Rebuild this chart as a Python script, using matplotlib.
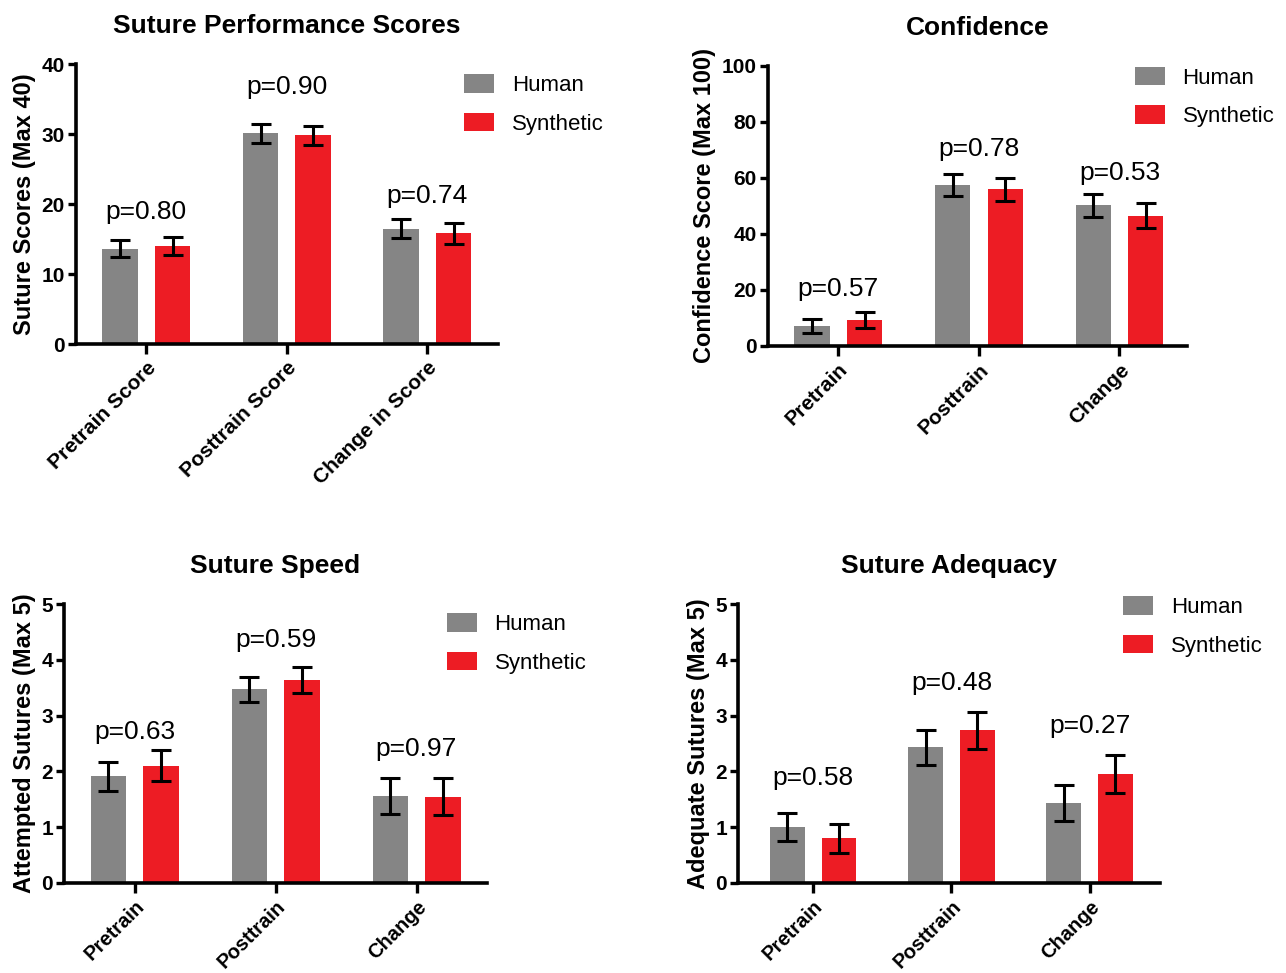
import numpy as np
import matplotlib
matplotlib.use("Agg")
import matplotlib.pyplot as plt

plt.rcParams['font.family'] = ['Liberation Sans', 'DejaVu Sans']

# Data
series = ["Human", "Synthetic"]
colors = ["#858585", "#ED1C24"]

perf_groups = ["Pretrain Score", "Posttrain Score", "Change in Score"]
perf_human = [13.6, 30.1, 16.5]
perf_human_err = [1.2, 1.35, 1.4]
perf_synth = [14.0, 29.8, 15.8]
perf_synth_err = [1.25, 1.4, 1.45]
perf_p = ["p=0.80", "p=0.90", "p=0.74"]
perf_p_y = [18.9, 36.7, 21.1]

conf_groups = ["Pretrain", "Posttrain", "Change"]
conf_human = [7.2, 57.5, 50.3]
conf_human_err = [2.5, 3.9, 4.1]
conf_synth = [9.3, 56.0, 46.6]
conf_synth_err = [2.7, 4.1, 4.3]
conf_p = ["p=0.57", "p=0.78", "p=0.53"]
conf_p_y = [20.4, 70.4, 61.8]

speed_groups = ["Pretrain", "Posttrain", "Change"]
speed_human = [1.91, 3.47, 1.56]
speed_human_err = [0.26, 0.22, 0.32]
speed_synth = [2.10, 3.64, 1.55]
speed_synth_err = [0.28, 0.24, 0.34]
speed_p = ["p=0.63", "p=0.59", "p=0.97"]
speed_p_y = [2.71, 4.36, 2.40]

adeq_groups = ["Pretrain", "Posttrain", "Change"]
adeq_human = [1.00, 2.43, 1.43]
adeq_human_err = [0.25, 0.31, 0.32]
adeq_synth = [0.80, 2.74, 1.95]
adeq_synth_err = [0.26, 0.33, 0.34]
adeq_p = ["p=0.58", "p=0.48", "p=0.27"]
adeq_p_y = [1.88, 3.58, 2.81]

fig = plt.figure(figsize=(12.86, 9.73), dpi=100)


def panel(rect, title, ylabel, groups, hv, he, sv, se, ptxt, py, ymax, ystep,
          xlim, leg_anchor, xfont=15):
    ax = fig.add_axes(rect)
    x = np.arange(len(groups))
    w = 0.25
    off = 0.187
    for xs, vals, errs, c, lab in [(x - off, hv, he, colors[0], series[0]),
                                   (x + off, sv, se, colors[1], series[1])]:
        ax.bar(xs, vals, w, color=c, label=lab, zorder=2)
        ax.errorbar(xs, vals, yerr=errs, fmt='none', ecolor='black',
                    elinewidth=2.2, capsize=7, capthick=2.2, zorder=3)
    for xi, t, yy in zip(x, ptxt, py):
        ax.text(xi, yy, t, ha='center', va='center', fontsize=19)
    ax.set_xlim(*xlim)
    ax.set_ylim(0, ymax)
    ax.set_yticks(np.arange(0, ymax + ystep / 2, ystep))
    ax.set_xticks(x)
    ax.set_xticklabels(groups, rotation=45, ha='right', rotation_mode='anchor',
                       fontsize=xfont, fontweight='bold')
    for lbl in ax.get_yticklabels():
        lbl.set_fontweight('bold')
    ax.tick_params(axis='y', labelsize=15, width=2.4, length=6, pad=2)
    ax.tick_params(axis='x', width=2.4, length=7, pad=3)
    for s in ['top', 'right']:
        ax.spines[s].set_visible(False)
    for s in ['left', 'bottom']:
        ax.spines[s].set_linewidth(2.6)
    ax.set_ylabel(ylabel, fontsize=17, fontweight='bold', labelpad=4)
    ax.set_title(title, fontsize=19, fontweight='bold', pad=22)
    ax.legend(loc='upper left', bbox_to_anchor=leg_anchor, frameon=False,
              fontsize=16, handlelength=1.35, handleheight=0.9,
              labelspacing=0.75, handletextpad=0.8, borderaxespad=0)
    return ax


panel([0.0591, 0.6464, 0.3278, 0.2878], "Suture Performance Scores",
      "Suture Scores (Max 40)", perf_groups, perf_human, perf_human_err,
      perf_synth, perf_synth_err, perf_p, perf_p_y, 40, 10,
      (-0.5, 2.5), (0.90, 0.995))

panel([0.5972, 0.6444, 0.3258, 0.2878], "Confidence",
      "Confidence Score (Max 100)", conf_groups, conf_human, conf_human_err,
      conf_synth, conf_synth_err, conf_p, conf_p_y, 100, 20,
      (-0.5, 2.48), (0.854, 1.029))

panel([0.0498, 0.0925, 0.3289, 0.2867], "Suture Speed",
      "Attempted Sutures (Max 5)", speed_groups, speed_human, speed_human_err,
      speed_synth, speed_synth_err, speed_p, speed_p_y, 5, 1,
      (-0.5, 2.5), (0.884, 0.999), xfont=14.5)

panel([0.5739, 0.0925, 0.3281, 0.2867], "Suture Adequacy",
      "Adequate Sutures (Max 5)", adeq_groups, adeq_human, adeq_human_err,
      adeq_synth, adeq_synth_err, adeq_p, adeq_p_y, 5, 1,
      (-0.545, 2.51), (0.891, 1.059), xfont=14.5)

fig.savefig("out.png", dpi=100)
